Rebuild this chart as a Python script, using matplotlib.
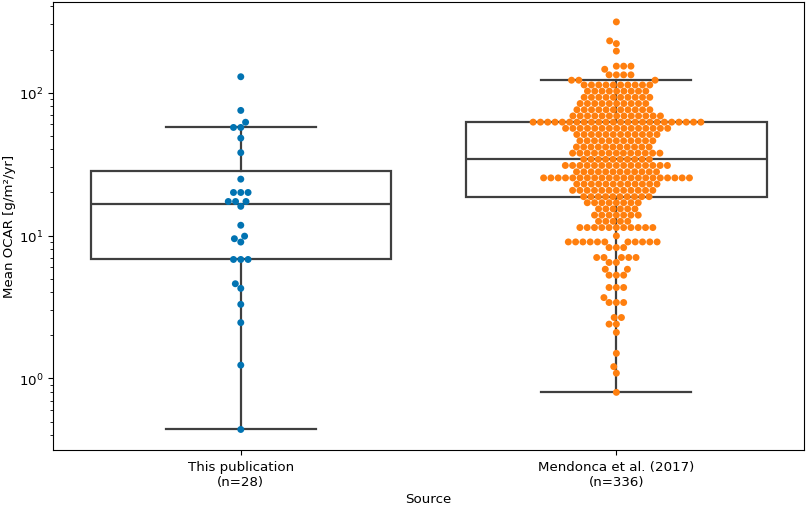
import numpy as np
import pandas as pd
import matplotlib
matplotlib.use('Agg')
import matplotlib.pyplot as plt
import seaborn as sns

plt.rcParams['font.size'] = 9.6

categories = ["This publication\n(n=28)", "Mendonca et al. (2017)\n(n=336)"]

# mean OCAR values [g/m2/yr]
this_pub = [129, 75, 62, 57, 57, 48, 38, 24.8, 20, 20, 20, 17.3, 17.3, 17.3, 16,
            11.8, 9.9, 9.5, 9.0, 6.8, 6.8, 6.8, 4.6, 4.27, 3.3, 2.46, 1.24, 0.44]

# (value, count) rows of the Mendonca et al. swarm
mendonca_rows = [
    (312, 1), (230, 1), (220, 1), (195, 1), (153, 3), (145.5, 1), (133, 4),
    (122, 3), (113, 10), (102.3, 9), (92.6, 10), (83.8, 10), (75.8, 11),
    (68.6, 13),
    (62.1, 24), (56.2, 15), (50.9, 12), (46.0, 11), (41.6, 11), (37.7, 13),
    (34.1, 10),
    (30.9, 15), (27.9, 12), (25.3, 21), (22.9, 12), (20.7, 12), (18.7, 10),
    (16.96, 8), (15.35, 6), (13.89, 7), (12.57, 5), (11.37, 11), (9.94, 1),
    (9.02, 11), (8.24, 3), (7.02, 5), (6.48, 2), (5.81, 2), (5.28, 3),
    (4.33, 3), (3.68, 1), (3.40, 3), (2.67, 2), (2.40, 2), (2.10, 1),
    (1.50, 1), (1.21, 1), (1.09, 1), (0.80, 1),
]
mendonca = []
for v, n in mendonca_rows:
    mendonca += [v] * n

colors = ['#0173b2', '#ff7f0e']

df = pd.DataFrame({
    'Source': [categories[0]] * len(this_pub) + [categories[1]] * len(mendonca),
    'OCAR': this_pub + mendonca,
})

fig = plt.figure(figsize=(8.09, 5.06), dpi=100)
ax = fig.add_axes([0.0655, 0.109, 0.9285, 0.886])

line_c = '#3f3f3f'
ax.boxplot([this_pub, mendonca], positions=[0, 1], widths=0.8, showfliers=False,
           patch_artist=True,
           boxprops=dict(facecolor='white', edgecolor=line_c, linewidth=1.6),
           medianprops=dict(color=line_c, linewidth=1.6),
           whiskerprops=dict(color=line_c, linewidth=1.6),
           capprops=dict(color=line_c, linewidth=1.6), zorder=1)

ax.set_yscale('log')
sns.swarmplot(data=df, x='Source', y='OCAR', hue='Source', palette=colors,
              order=categories, size=5, legend=False, ax=ax, zorder=3)

ax.set_xlim(-0.5, 1.5)
ax.set_xticks([0, 1])
ax.set_xticklabels(categories)
ax.set_xlabel("Source", labelpad=3)
ax.set_ylabel("Mean OCAR [g/m\u00b2/yr]", labelpad=2)

fig.savefig("out.png")
